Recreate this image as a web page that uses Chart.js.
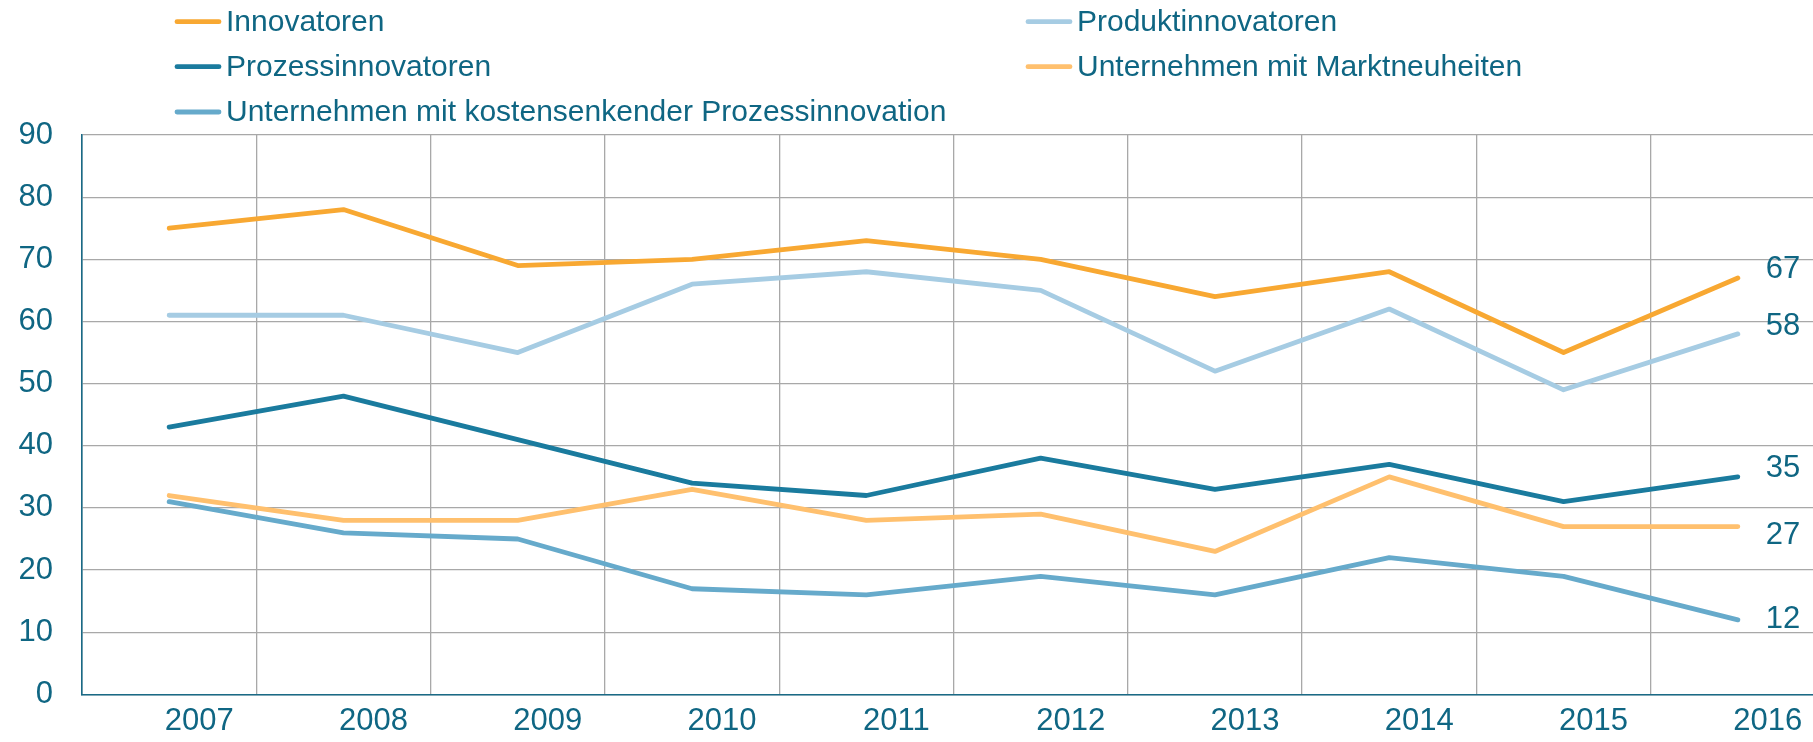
<!DOCTYPE html>
<html><head><meta charset="utf-8">
<script src="https://cdn.jsdelivr.net/npm/chart.js@4.4.1/dist/chart.umd.min.js"></script>
<style>
html,body{margin:0;padding:0;overflow:hidden;background:#fff}
#wrap{width:1830px;height:742px;position:relative}
</style>
</head><body>
<div id="wrap"><canvas id="c"></canvas></div>
<script>
const years = ['2007','2008','2009','2010','2011','2012','2013','2014','2015','2016'];
const innovatoren = [75, 78, 69, 70, 73, 70, 64, 68, 55, 67];
const produktinnovatoren = [61, 61, 55, 66, 68, 65, 52, 62, 49, 58];
const prozessinnovatoren = [43, 48, 41, 34, 32, 38, 33, 37, 31, 35];
const marktneuheiten = [32, 28, 28, 33, 28, 29, 23, 35, 27, 27];
const kostensenkend = [31, 26, 25, 17, 16, 19, 16, 22, 19, 12];
const seriesNames = ['Innovatoren', 'Produktinnovatoren', 'Prozessinnovatoren', 'Unternehmen mit Marktneuheiten', 'Unternehmen mit kostensenkender Prozessinnovation'];
const yMin = 0, yMax = 90, yStep = 10;

const TEXT = '#0F6683';
const FONT = "'Liberation Sans', Arial, sans-serif";
const colors = ['#F8A832', '#A6CCE3', '#1A7B9E', '#FFC06E', '#66AACB'];
const endLabelDy = [-9, -7, -8, 9, 0];
const seriesValues = [innovatoren, produktinnovatoren, prozessinnovatoren, marktneuheiten, kostensenkend];

const datasets = seriesValues.map((vals, i) => ({
  label: seriesNames[i],
  data: vals,
  borderColor: colors[i],
  backgroundColor: colors[i],
  borderWidth: 4.8,
  pointRadius: 0,
  pointHoverRadius: 0,
  tension: 0,
  fill: false,
  borderCapStyle: 'round',
  borderJoinStyle: 'round',
  endDy: endLabelDy[i]
}));

const legendPlugin = {
  id: 'customLegend',
  afterDraw(chart) {
    const ctx = chart.ctx;
    const cols = [175, 1026];
    const rows = [21.7, 66.7, 112];
    ctx.save();
    ctx.font = '30px ' + FONT;
    ctx.textBaseline = 'middle';
    ctx.textAlign = 'left';
    chart.data.datasets.forEach((ds, i) => {
      const x = cols[i % 2];
      const y = rows[Math.floor(i / 2)];
      ctx.strokeStyle = ds.borderColor;
      ctx.lineWidth = 4.8;
      ctx.lineCap = 'round';
      ctx.beginPath();
      ctx.moveTo(x + 2, y);
      ctx.lineTo(x + 44, y);
      ctx.stroke();
      ctx.fillStyle = TEXT;
      ctx.fillText(ds.label, x + 51, y + 1);
    });
    ctx.restore();
  }
};

const endLabelPlugin = {
  id: 'endLabels',
  afterDatasetsDraw(chart) {
    const ctx = chart.ctx;
    ctx.save();
    ctx.font = '31px ' + FONT;
    ctx.fillStyle = TEXT;
    ctx.textBaseline = 'middle';
    ctx.textAlign = 'left';
    chart.data.datasets.forEach((ds, i) => {
      const meta = chart.getDatasetMeta(i);
      const last = meta.data[meta.data.length - 1];
      const v = ds.data[ds.data.length - 1];
      ctx.fillText(String(v), last.x + 28, last.y + ds.endDy);
    });
    ctx.restore();
  }
};

new Chart(document.getElementById('c'), {
  type: 'line',
  data: { labels: years, datasets },
  options: {
    responsive: true,
    maintainAspectRatio: false,
    animation: false,
    layout: { padding: { top: 135, right: 5, left: 0, bottom: 0 } },
    plugins: { legend: { display: false }, tooltip: { enabled: false } },
    scales: {
      x: {
        offset: true,
        grid: { offset: true, color: '#A8A8A8', lineWidth: 1.3, drawTicks: false },
        border: { color: '#1A6A86', width: 1.6 },
        ticks: { color: TEXT, font: { family: FONT, size: 31 }, padding: 8, labelOffset: 30, maxRotation: 0, autoSkip: false },
        afterFit(scale) { scale.height = 45; }
      },
      y: {
        min: yMin, max: yMax,
        grid: { color: '#A8A8A8', lineWidth: 1.3, drawTicks: false },
        border: { color: '#1A6A86', width: 1.6 },
        ticks: { stepSize: yStep, color: TEXT, font: { family: FONT, size: 31 }, padding: 29 },
        afterFit(scale) { scale.width = 82; }
      }
    }
  },
  plugins: [legendPlugin, endLabelPlugin]
});
</script>
</body></html>
